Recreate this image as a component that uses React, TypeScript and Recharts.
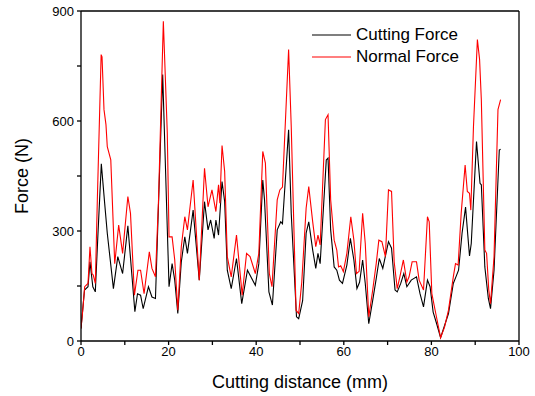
import React from "react";
import { LineChart, Line, XAxis, YAxis, Legend } from "recharts";

/* ---------------- DATA ---------------- */
// cutting distance (mm) / force (N)
const cutX = [
  0, 0.8, 1.6, 2.05, 2.7, 3.27, 3.88, 4.64, 5.4, 6.0, 7.4, 8.4, 9.5, 10.7, 12.3,
  12.9, 13.6, 14.2, 15.4, 16.2, 17.0, 18.65, 20.1, 20.8, 21.4, 22.1, 22.9, 23.7,
  24.3, 25.6, 27.0, 28.2, 29.0, 29.6, 30.4, 30.8, 31.4, 32.2, 32.8, 33.4, 34.3,
  35.5, 36.7, 38.0, 39.8, 40.6, 41.5, 41.9, 42.9, 43.7, 44.8, 45.6, 46.0, 47.4,
  48.0, 49.2, 49.7, 50.6, 51.4, 52.0, 52.9, 53.6, 54.1, 54.6, 56.0, 56.4, 57.0,
  57.8, 58.4, 59.0, 59.7, 60.7, 61.5, 62.3, 63.0, 63.6, 64.3, 64.9, 65.7, 66.6,
  67.4, 68.1, 68.9, 70.2, 70.9, 71.7, 72.2, 73.0, 73.7, 74.4, 75.4, 76.6, 77.4,
  78.2, 79.1, 79.7, 80.4, 81.2, 82.1, 83.9, 85.0, 85.6, 86.2, 87.0, 87.8, 88.3,
  88.7, 89.1, 90.3, 91.1, 91.4, 92.2, 93.0, 93.5, 94.3, 95.5, 95.8,
];
const cutF = [
  34, 139, 148, 216, 148, 134, 294, 483, 376, 294, 143, 230, 184, 314, 80,
  129, 125, 88, 148, 120, 116, 727, 148, 211, 166, 75, 216, 284,
  239, 357, 166, 380, 303, 330, 280, 330, 289, 435, 380, 193, 143,
  225, 102, 193, 152, 211, 439, 385, 134, 98, 303, 325, 320, 576,
  348, 66, 61, 110, 294, 325, 248, 198, 239, 211, 494, 499, 303,
  202, 193, 166, 157, 207, 280, 221, 143, 160, 221, 157, 47, 111,
  170, 225, 198, 271, 253, 139, 134, 157, 184, 148, 166, 175, 129,
  93, 166, 148, 79, 47, 9, 75, 157, 175, 193, 294, 365, 290,
  232, 266, 544, 430, 426, 202, 116, 88, 193, 521, 523,
];

const normX = [
  0, 0.4, 0.84, 1.6, 2.05, 2.5, 2.8, 3.27, 3.73, 4.6, 4.8, 5.25, 5.7, 6.0, 6.8,
  7.7, 8.6, 9.5, 10.7, 11.3, 12.2, 13.0, 13.6, 14.4, 15.6, 16.2, 17.0, 17.7,
  18.8, 19.7, 20.1, 20.8, 21.4, 22.1, 22.9, 23.7, 24.3, 25.6, 27.0, 28.2, 29.0,
  29.9, 30.8, 31.4, 31.7, 32.2, 32.8, 33.4, 34.3, 35.5, 36.8, 37.8, 38.6, 39.8,
  40.6, 41.5, 42.1, 43.0, 43.6, 44.8, 45.4, 46.0, 47.4, 48.0, 49.1, 49.7, 50.4,
  51.4, 52.0, 52.9, 53.6, 54.1, 54.6, 55.8, 56.4, 57.0, 57.8, 58.4, 58.8, 59.3,
  59.9, 60.7, 61.6, 62.3, 62.9, 63.5, 64.3, 64.9, 65.7, 66.6, 67.4, 68.0, 68.7,
  69.5, 70.2, 70.9, 71.5, 72.2, 72.8, 73.6, 74.4, 74.9, 75.6, 76.6, 77.2, 78.2,
  79.1, 79.5, 80.1, 81.0, 82.1, 83.0, 83.9, 85.0, 85.5, 86.1, 86.8, 87.7, 88.2,
  88.7, 89.0, 89.6, 90.5, 91.0, 91.4, 92.2, 92.6, 93.1, 93.5, 94.3, 95.2, 95.8,
];
const normF = [
  34, 84, 148, 157, 257, 184, 180, 157, 385, 781, 775, 631, 590, 530, 494,
  211, 316, 239, 394, 348, 125, 193, 193, 129, 243, 198, 175, 385,
  872, 567, 284, 284, 221, 84, 257, 339, 303, 439, 166, 471, 366,
  412, 353, 426, 376, 533, 462, 230, 175, 289, 125, 239, 230, 184,
  239, 517, 485, 184, 148, 385, 412, 420, 795, 585, 84, 75, 160,
  362, 421, 325, 257, 289, 262, 604, 617, 385, 275, 248, 202, 205,
  189, 239, 339, 275, 184, 190, 348, 266, 66, 139, 211, 275, 271,
  230, 412, 408, 216, 143, 175, 221, 161, 175, 216, 216, 166, 139,
  339, 325, 129, 75, 9, 38, 84, 175, 211, 207, 348, 480, 408,
  403, 357, 583, 822, 768, 658, 248, 239, 139, 102, 230, 631, 658,
];

const xTicks = [0, 10, 20, 30, 40, 50, 60, 70, 80, 90, 100];
const yTicks = [0, 150, 300, 450, 600, 750, 900];

const cutData = cutX.map((x, i) => ({ x, f: cutF[i] }));
const normData = normX.map((x, i) => ({ x, f: normF[i] }));

const font = "'Liberation Sans', Arial, sans-serif";
const tickStyle = { fill: "#000", fontSize: 13, fontFamily: font };
const axisLine = { stroke: "#000", strokeWidth: 1.3 };

/* ---------------- LEGEND ---------------- */
const LegendBox = ({ payload }: any) => (
  <div style={{ fontFamily: font, fontSize: 17, color: "#000" }}>
    {(payload || []).map((p: any) => (
      <div key={p.value} style={{ display: "flex", alignItems: "center", height: 22 }}>
        <svg width={44} height={10}>
          <line x1={0} y1={5} x2={39} y2={5} stroke={p.color} strokeWidth={1.2} />
        </svg>
        <span>{p.value}</span>
      </div>
    ))}
  </div>
);

/* ---------------- COMPONENT ---------------- */
export default function App() {
  return (
    <div style={{ position: "absolute", left: 0, top: 0, background: "#fff" }}>
      <LineChart width={535} height={396} margin={{ top: 11, right: 16, left: 0, bottom: 0 }}>
        <XAxis
          xAxisId="b"
          dataKey="x"
          type="number"
          domain={[0, 100]}
          ticks={xTicks}
          tickFormatter={(v) => (v % 20 === 0 ? String(v) : "")}
          tick={tickStyle}
          tickSize={4}
          tickMargin={2}
          axisLine={axisLine}
          tickLine={axisLine}
          height={55}
          allowDataOverflow
          label={{
            value: "Cutting distance (mm)",
            position: "insideBottom",
            offset: 8,
            style: { fill: "#000", fontSize: 18, fontFamily: font },
          }}
        />
        {/* mirrored top / right axes: box + inward ticks */}
        <XAxis
          xAxisId="t"
          orientation="top"
          dataKey="x"
          type="number"
          domain={[0, 100]}
          ticks={xTicks}
          tick={false}
          mirror
          tickSize={3}
          axisLine={axisLine}
          tickLine={axisLine}
          height={20}
        />
        <YAxis
          yAxisId="l"
          type="number"
          domain={[0, 900]}
          ticks={yTicks}
          tickFormatter={(v) => (v % 300 === 0 ? String(v) : "")}
          tick={tickStyle}
          tickSize={4}
          tickMargin={3}
          axisLine={axisLine}
          tickLine={axisLine}
          width={81}
          label={{
            value: "Force (N)",
            angle: -90,
            position: "insideLeft",
            offset: 22,
            style: { fill: "#000", fontSize: 18, fontFamily: font, textAnchor: "middle" },
          }}
        />
        <YAxis
          yAxisId="r"
          orientation="right"
          type="number"
          domain={[0, 900]}
          ticks={yTicks}
          tick={false}
          mirror
          tickSize={3}
          axisLine={axisLine}
          tickLine={axisLine}
          width={20}
        />
        <Legend
          layout="vertical"
          verticalAlign="middle"
          align="center"
          content={<LegendBox />}
          wrapperStyle={{ position: "absolute", left: 312, top: 24, width: 180 }}
        />
        <Line
          xAxisId="b"
          yAxisId="l"
          data={cutData}
          dataKey="f"
          name="Cutting Force"
          type="linear"
          stroke="#000"
          strokeWidth={1.1}
          dot={false}
          isAnimationActive={false}
        />
        <Line
          xAxisId="b"
          yAxisId="l"
          data={normData}
          dataKey="f"
          name="Normal Force"
          type="linear"
          stroke="#ff0000"
          strokeWidth={1.1}
          dot={false}
          isAnimationActive={false}
        />
      </LineChart>
    </div>
  );
}
